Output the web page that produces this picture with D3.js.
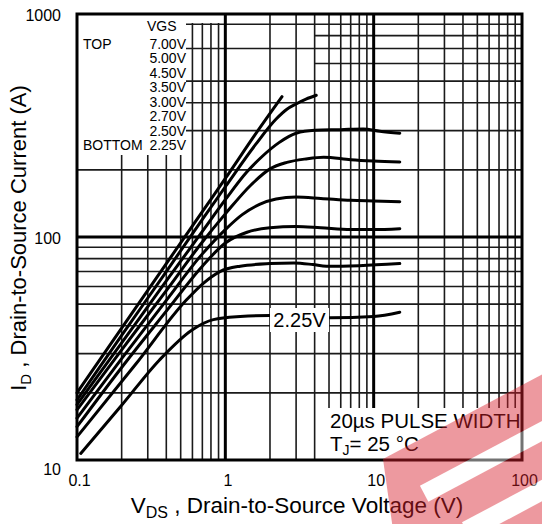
<!DOCTYPE html>
<html><head><meta charset="utf-8">
<script src="https://cdn.jsdelivr.net/npm/d3@7"></script>
<style>html,body{margin:0;padding:0;background:#fff}svg{display:block}</style>
</head><body><svg id="chart" width="542" height="524"></svg>
<script>
// Typical output characteristics: ID vs VDS for several gate voltages
const gateLabels = ["7.00V", "5.00V", "4.50V", "3.50V", "3.00V", "2.70V", "2.50V", "2.25V"];
const xTickValues = [0.1, 1, 10, 100];
const xTickLabels = ["0.1", "1", "10", "100"];
const yTickValues = [10, 100, 1000];
const yTickLabels = ["10", "100", "1000"];

// [VDS (V), ID (A)]
const id700 = [[0.1,20],[0.2,39],[0.4,76],[0.7,130],[1.0,183],[1.6,290],[2.41,426]];
const id500 = [[0.1,18.6],[0.2,36.2],[0.4,70],[0.7,120],[1.0,168],[1.6,260],[2.2,338],[2.6,374],[3.0,395],[3.5,415],[4.1,432]];
const id450 = [[0.1,17.7],[0.2,33.5],[0.4,63.5],[0.7,106],[1.0,147],[1.4,196],[1.8,232],[2.3,265],[3.0,292],[4.0,301],[6,303],[8.5,305],[11,298],[15,292]];
const id350 = [[0.1,16.8],[0.2,31.2],[0.4,57.5],[0.7,95],[1.0,127],[1.5,172],[2.0,202],[2.6,216],[3.5,224],[4.6,228],[7,222],[10,219],[15,217]];
const id300 = [[0.1,15.4],[0.2,28.5],[0.4,52],[0.7,84],[1.0,108],[1.3,126],[1.7,140],[2.2,148],[3.0,151],[4.4,149],[7,146],[10,145],[15,144]];
const id270 = [[0.1,14.1],[0.2,26],[0.4,46.5],[0.7,74],[1.0,94],[1.4,105],[2.0,110],[3.0,111.5],[4.4,110],[7,108],[10,108],[15,109]];
const id250 = [[0.1,12.7],[0.25,27],[0.544,52],[0.71,62],[0.92,70],[1.26,74],[2.0,76],[2.9,76.5],[3.9,75.2],[4.8,73.9],[8,74.4],[15,76]];
const id225 = [[0.106,10.7],[0.2,17.6],[0.36,28.1],[0.6,38.4],[0.83,42.6],[1.26,44],[2.0,44.5],[3,44.3],[5.1,43.4],[10,44],[15,46]];
const curves = [id700, id500, id450, id350, id300, id270, id250, id225];

const noteLines = ["20µs PULSE WIDTH", "= 25 °C"];

const svg = d3.select("#chart");
const font = "'Liberation Sans', Arial, Helvetica, sans-serif";
const L = 77, R = 522, T = 14, B = 460;

const x = d3.scaleLog().domain([0.1, 100]).range([L, R]);
const y = d3.scaleLog().domain([10, 1000]).range([B, T]);

// grid
const isDecade = v => Math.abs(Math.log10(v) - Math.round(Math.log10(v))) < 1e-9;
const grid = svg.append("g");
grid.selectAll("line.vx").data(x.ticks().filter(v => !isDecade(v))).join("line")
  .attr("x1", d => x(d)).attr("x2", d => x(d)).attr("y1", T).attr("y2", B)
  .attr("stroke", "#1a1a1a").attr("stroke-width", 1.6);
grid.selectAll("line.hy").data(y.ticks().filter(v => !isDecade(v))).join("line")
  .attr("y1", d => y(d)).attr("y2", d => y(d))
  .attr("x1", d => (d === 800 || d === 600) ? x(4) : L).attr("x2", R)
  .attr("stroke", "#1a1a1a").attr("stroke-width", 1.6);
grid.selectAll("line.mx").data([1, 10]).join("line")
  .attr("x1", d => x(d)).attr("x2", d => x(d)).attr("y1", T).attr("y2", B)
  .attr("stroke", "#000").attr("stroke-width", 3);
grid.selectAll("line.my").data([100]).join("line")
  .attr("y1", d => y(d)).attr("y2", d => y(d)).attr("x1", L).attr("x2", R)
  .attr("stroke", "#000").attr("stroke-width", 3);

// legend backdrop
svg.append("rect").attr("x", L).attr("y", T).attr("width", 109).attr("height", 141).attr("fill", "#fff");
svg.append("rect").attr("x", L + 109).attr("y", T).attr("width", 37).attr("height", 9).attr("fill", "#fff");

// curves
const line = d3.line().x(d => x(d[0])).y(d => y(d[1])).curve(d3.curveMonotoneX);
svg.append("g").selectAll("path").data(curves).join("path")
  .attr("d", line).attr("fill", "none").attr("stroke", "#000")
  .attr("stroke-width", 3).attr("stroke-linecap", "round").attr("stroke-linejoin", "round");

// 2.25V inline label
svg.append("rect").attr("x", 270).attr("y", 308).attr("width", 59).attr("height", 24).attr("fill", "#fff");
svg.append("text").attr("x", 299.5).attr("y", 327).attr("text-anchor", "middle")
  .attr("font-family", font).attr("font-size", 20).text(gateLabels[7]);

// note box
svg.append("rect").attr("x", 317).attr("y", 408).attr("width", 204).attr("height", 51).attr("fill", "#fff");
svg.append("text").attr("x", 330).attr("y", 428).attr("font-family", font).attr("font-size", 20.5).text(noteLines[0]);
const tj = svg.append("text").attr("x", 330).attr("y", 451).attr("font-family", font).attr("font-size", 20.5);
tj.append("tspan").text("T");
tj.append("tspan").attr("font-size", 14).attr("dy", 4).text("J");
tj.append("tspan").attr("dy", -4).text(noteLines[1]);

// frame
svg.append("rect").attr("x", L).attr("y", T).attr("width", R - L).attr("height", B - T)
  .attr("fill", "none").attr("stroke", "#000").attr("stroke-width", 3);

// legend text
const lg = svg.append("g").attr("font-family", font).attr("font-size", 14).attr("fill", "#000");
lg.append("text").attr("x", 147).attr("y", 30.5).text("VGS");
lg.selectAll("text.v").data(gateLabels).join("text").attr("class", "v")
  .attr("x", 186).attr("y", (d, i) => 48.5 + 14.5 * i).attr("text-anchor", "end").text(d => d);
lg.append("text").attr("x", 83).attr("y", 48.5).text("TOP");
lg.append("text").attr("x", 83).attr("y", 150).text("BOTTOM");

// axes tick labels
const xAxis = d3.axisBottom(x).tickValues(xTickValues).tickSize(0)
  .tickFormat((d, i) => xTickLabels[i]);
svg.append("g").attr("transform", `translate(2,${B + 12})`).call(xAxis)
  .call(g => g.select(".domain").remove())
  .call(g => g.selectAll("text").attr("font-family", font).attr("font-size", 16).attr("fill", "#000").attr("dy", "0.71em"));
const yAxis = d3.axisLeft(y).tickValues(yTickValues).tickSize(0)
  .tickFormat((d, i) => yTickLabels[i]);
svg.append("g").attr("transform", `translate(${L - 13},0)`).call(yAxis)
  .call(g => g.select(".domain").remove())
  .call(g => g.selectAll("text").attr("font-family", font).attr("font-size", 16).attr("fill", "#000")
    .attr("dy", (d, i) => i === 0 ? "0.9em" : "0.4em"));

// axis titles
const xt = svg.append("text").attr("x", 297).attr("y", 513).attr("text-anchor", "middle")
  .attr("font-family", font).attr("font-size", 22.5);
xt.append("tspan").text("V");
xt.append("tspan").attr("font-size", 16).attr("dy", 5).text("DS");
xt.append("tspan").attr("dy", -5).text(" , Drain-to-Source Voltage (V)");

const yt = svg.append("text").attr("transform", "translate(26,238) rotate(-90)").attr("text-anchor", "middle")
  .attr("font-family", font).attr("font-size", 22);
yt.append("tspan").text("I");
yt.append("tspan").attr("font-size", 15).attr("dy", 5).text("D");
yt.append("tspan").attr("dy", -5).text(" ,  Drain-to-Source Current (A)");

// translucent mark in the lower right corner
const wm = svg.append("g").attr("transform", "translate(383,459) rotate(-28)").attr("opacity", 0.45);
wm.append("polygon").attr("points", "0,0 400,0 400,220 -80,220").attr("fill", "#d9202c");
wm.append("rect").attr("x", 20).attr("y", 41).attr("width", 380).attr("height", 18).attr("fill", "#fff");
wm.append("rect").attr("x", 40).attr("y", 93).attr("width", 360).attr("height", 19).attr("fill", "#fff");
</script></body></html>
